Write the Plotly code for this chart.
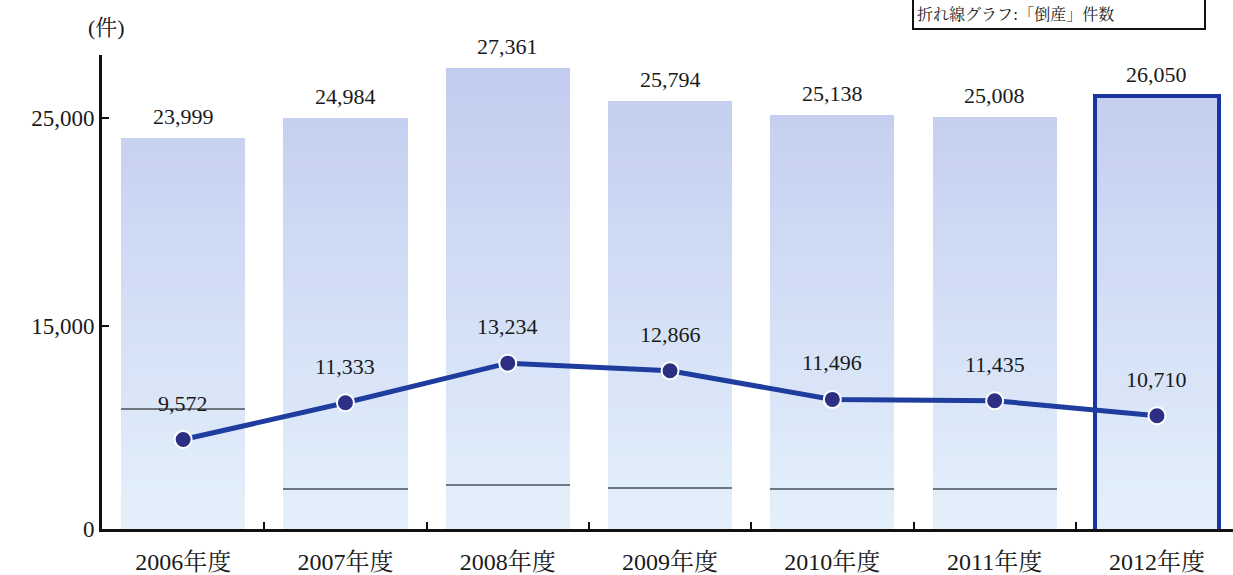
import numpy as np
import plotly.graph_objects as go

# ---- data ----
years = ["2006年度", "2007年度", "2008年度", "2009年度", "2010年度", "2011年度", "2012年度"]
bar_values = [23999, 24984, 27361, 25794, 25138, 25008, 26050]
line_values = [9572, 11333, 13234, 12866, 11496, 11435, 10710]
divider_values = [11000, 7190, 7380, 7240, 7190, 7190, None]
highlight = [False, False, False, False, False, False, True]

# axis (broken at the bottom: the baseline is labelled 0)
Y_BOTTOM = 5286
Y_TOP = 28000
tick_vals = [Y_BOTTOM, 15000, 25000]
tick_text = ["0", "15,000", "25,000"]

SERIF = "Liberation Serif, Noto Serif CJK JP, Noto Sans CJK JP, serif"
BAR_W = 0.765

top_rgb = np.array([194, 204, 239])
bot_rgb = np.array([228, 241, 251])


def grad_color(v):
    t = (v - Y_BOTTOM) / (27400 - Y_BOTTOM)
    t = min(max(t, 0), 1)
    c = bot_rgb + (top_rgb - bot_rgb) * t
    return "rgb(%d,%d,%d)" % tuple(c.round().astype(int))


fig = go.Figure()

# gradient bars: overlaid bar layers, lighter toward the baseline
vals = np.array(bar_values, dtype=float)
levels = np.arange(Y_TOP, Y_BOTTOM, -450)
for L in levels:
    fig.add_trace(go.Bar(
        x=years, y=np.minimum(vals, L), width=BAR_W,
        marker=dict(color=grad_color(L), line=dict(width=0)),
        hoverinfo="skip", showlegend=False,
    ))

# thin divider lines inside bars
div_x = [y for y, d in zip(years, divider_values) if d is not None]
div_b = [d for d in divider_values if d is not None]
fig.add_trace(go.Bar(
    x=div_x, y=[70] * len(div_b), base=div_b, width=BAR_W,
    marker=dict(color="#6f7780", line=dict(width=0)),
    hoverinfo="skip", showlegend=False,
))

# highlight outline for 2012
fig.add_trace(go.Bar(
    x=years, y=bar_values, width=BAR_W,
    marker=dict(color="rgba(0,0,0,0)",
                line=dict(color="#1b35a0", width=[4 if h else 0 for h in highlight])),
    hoverinfo="skip", showlegend=False,
))

# line
fig.add_trace(go.Scatter(
    x=years, y=line_values, mode="lines+markers",
    line=dict(color="#1f3d9e", width=5),
    marker=dict(size=17, color="#2d2f85", line=dict(color="white", width=2)),
    showlegend=False,
))

# value labels
for x, v in zip(years, bar_values):
    fig.add_annotation(x=x, y=v, text=f"{v:,}", showarrow=False,
                       yanchor="bottom", yshift=7,
                       font=dict(family=SERIF, size=22, color="#1a1a1a"))
for x, v in zip(years, line_values):
    fig.add_annotation(x=x, y=v, text=f"{v:,}", showarrow=False,
                       yanchor="bottom", yshift=22,
                       font=dict(family=SERIF, size=22, color="#1a1a1a"))

# unit label
fig.add_annotation(xref="paper", yref="paper", x=0.004, y=1.057,
                   text="(件)", showarrow=False, xanchor="center", yanchor="middle",
                   font=dict(family=SERIF, size=22, color="#1a1a1a"))

# legend box (top edge touches the page top)
fig.add_annotation(xref="paper", yref="paper", x=(912 - 102) / 1131, y=(532 - 30) / 477,
                   xanchor="left", yanchor="bottom", showarrow=False,
                   text="折れ線グラフ:「倒産」件数", align="left", width=284,
                   bordercolor="#111", borderwidth=2, borderpad=3, bgcolor="white",
                   font=dict(family="Noto Serif CJK JP, Noto Sans CJK JP", size=16, color="#222"))

fig.update_layout(
    width=1233, height=575,
    margin=dict(l=102, r=0, t=55, b=43),
    paper_bgcolor="white", plot_bgcolor="white",
    barmode="overlay", bargap=0,
    showlegend=False,
    font=dict(family=SERIF, color="#1a1a1a"),
)
fig.update_xaxes(
    type="category", categoryorder="array", categoryarray=years,
    range=[-0.5, -0.5 + (1233 - 102) / 162.3],
    showline=True, linecolor="#111", linewidth=3,
    ticks="inside", tickson="boundaries", ticklen=7, tickwidth=2, tickcolor="#111",
    tickfont=dict(family="Liberation Serif, Noto Serif CJK JP, Noto Sans CJK JP", size=24, color="#1a1a1a"),
    ticklabelstandoff=9,
    showgrid=False, zeroline=False,
)
fig.update_yaxes(
    range=[Y_BOTTOM, Y_TOP],
    tickvals=tick_vals, ticktext=tick_text,
    showline=True, linecolor="#111", linewidth=3,
    ticks="inside", ticklen=7, tickwidth=2, tickcolor="#111",
    tickfont=dict(family=SERIF, size=23, color="#1a1a1a"),
    showgrid=False, zeroline=False,
)

fig.write_html("out.html")
